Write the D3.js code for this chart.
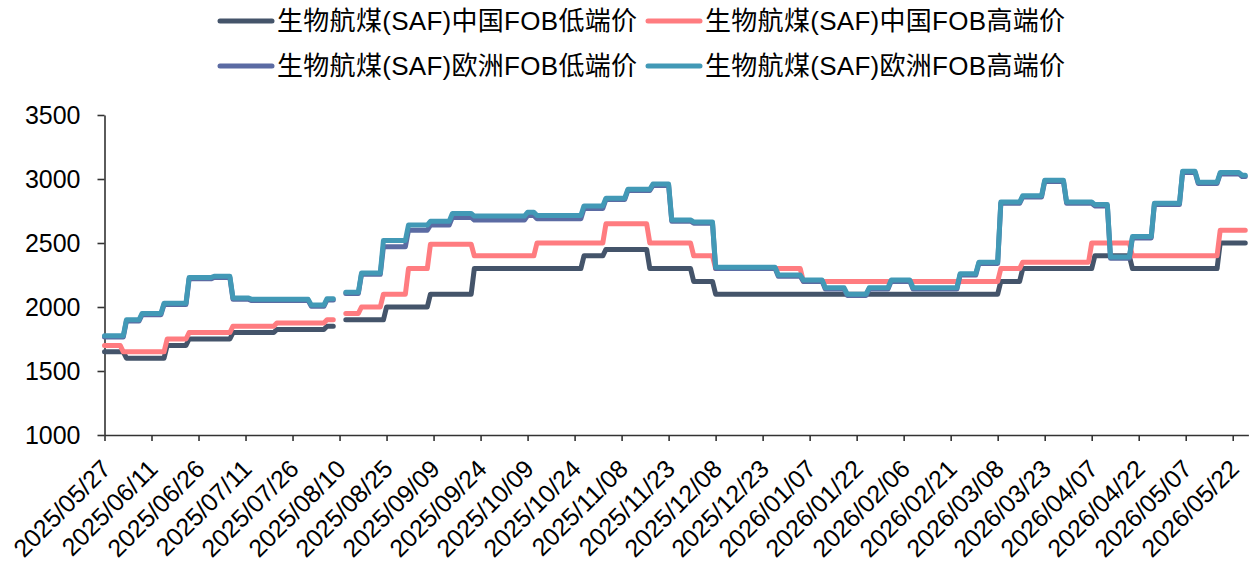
<!DOCTYPE html>
<html><head><meta charset="utf-8">
<script src="https://cdn.jsdelivr.net/npm/d3@7"></script>
<style>
body{margin:0;background:#fff;}
svg{display:block;}
text{font-family:"Liberation Sans",Arial,"Noto Sans CJK SC",sans-serif;fill:#000;}
</style>
</head><body>
<svg id="chart" width="1254" height="565"></svg>
<script>
// ---------- data ----------
const seriesNames = ["生物航煤(SAF)中国FOB低端价","生物航煤(SAF)中国FOB高端价","生物航煤(SAF)欧洲FOB低端价","生物航煤(SAF)欧洲FOB高端价"];
const seriesColors = ["#44546A","#FF7C80","#5B6BA3","#4299B6"];

// change points (step series); null = no data
const cnLowDates = ["2025/05/27","2025/06/03","2025/06/16","2025/06/23","2025/07/07","2025/07/21","2025/08/06","2025/08/08","2025/08/09","2025/08/12","2025/08/25","2025/09/08","2025/09/22","2025/10/27","2025/11/03","2025/11/17","2025/12/01","2025/12/08","2026/03/09","2026/03/16","2026/04/08","2026/04/20","2026/05/18","2026/05/26"];
const cnLowValues = [1650,1600,1700,1750,1800,1825,1850,1850,null,1900,2000,2100,2300,2400,2450,2300,2200,2100,2200,2300,2400,2300,2500,2500];

const cnHighDates = ["2025/05/27","2025/06/02","2025/06/16","2025/06/23","2025/07/07","2025/07/21","2025/08/06","2025/08/08","2025/08/09","2025/08/12","2025/08/17","2025/08/24","2025/09/01","2025/09/08","2025/09/22","2025/10/12","2025/11/03","2025/11/17","2025/12/01","2025/12/08","2026/01/05","2026/03/09","2026/03/16","2026/04/07","2026/04/20","2026/05/18","2026/05/26"];
const cnHighValues = [1700,1650,1750,1800,1850,1875,1900,1900,null,1950,2000,2100,2300,2490,2400,2500,2650,2500,2400,2300,2200,2300,2350,2500,2400,2600,2600];

const euDates = ["2025/05/27","2025/06/03","2025/06/08","2025/06/15","2025/06/23","2025/07/01","2025/07/07","2025/07/13","2025/08/01","2025/08/06","2025/08/08","2025/08/09","2025/08/12","2025/08/17","2025/08/24","2025/09/01","2025/09/08","2025/09/15","2025/09/22","2025/10/09","2025/10/12","2025/10/27","2025/11/03","2025/11/10","2025/11/18","2025/11/24","2025/12/01","2025/12/08","2025/12/28","2026/01/05","2026/01/12","2026/01/19","2026/01/26","2026/02/02","2026/02/09","2026/02/24","2026/03/02","2026/03/09","2026/03/16","2026/03/23","2026/03/30","2026/04/08","2026/04/13","2026/04/20","2026/04/27","2026/05/06","2026/05/11","2026/05/18","2026/05/25","2026/05/26"];
const euLowValues = [1765,1890,1940,2020,2220,2230,2060,2050,2005,2055,2055,null,2105,2255,2470,2600,2640,2700,2680,2715,2690,2770,2840,2910,2950,2670,2655,2300,2240,2200,2140,2090,2140,2200,2140,2250,2340,2810,2860,2980,2810,2790,2380,2540,2800,3050,2965,3040,3020,3020];
const euHighValues = [1775,1900,1950,2030,2230,2240,2070,2060,2015,2065,2065,null,2115,2265,2520,2640,2670,2730,2710,2740,2715,2790,2850,2920,2960,2680,2665,2310,2250,2210,2150,2100,2150,2210,2150,2260,2350,2820,2870,2990,2820,2800,2390,2550,2810,3060,2975,3050,3030,3030];

const yTickValues = [1000,1500,2000,2500,3000,3500];
const xTickLabels = ["2025/05/27","2025/06/11","2025/06/26","2025/07/11","2025/07/26","2025/08/10","2025/08/25","2025/09/09","2025/09/24","2025/10/09","2025/10/24","2025/11/08","2025/11/23","2025/12/08","2025/12/23","2026/01/07","2026/01/22","2026/02/06","2026/02/21","2026/03/08","2026/03/23","2026/04/07","2026/04/22","2026/05/07","2026/05/22"];
const xDomain = ["2025/05/27","2026/05/27"];

// ---------- chart ----------
const parse = d3.timeParse("%Y/%m/%d");
const fmt = d3.timeFormat("%Y/%m/%d");
const svg = d3.select("#chart");

const x = d3.scaleTime().domain(xDomain.map(parse)).range([104.5, 1248.4]);
const y = d3.scaleLinear().domain([1000, 3500]).range([435, 115]);

function buildPoints(dates, values) {
  const pts = [];
  for (let i = 0; i < dates.length; i++) {
    const d = parse(dates[i]);
    const v = values[i];
    if (v != null && i > 0 && values[i-1] != null) {
      const hold = d3.timeDay.offset(d, -1);
      if (hold > parse(dates[i-1])) pts.push({d: hold, v: values[i-1]});
    }
    pts.push({d, v});
  }
  return pts;
}

const series = [
  buildPoints(cnLowDates, cnLowValues),
  buildPoints(cnHighDates, cnHighValues),
  buildPoints(euDates, euLowValues),
  buildPoints(euDates, euHighValues)
];

const line = d3.line()
  .defined(p => p.v != null)
  .x(p => x(p.d))
  .y(p => y(p.v));

// axes
const yAxis = d3.axisLeft(y).tickValues(yTickValues).tickSize(7).tickSizeOuter(0).tickPadding(17).tickFormat(d3.format("d"));
const gy = svg.append("g").attr("transform", "translate(104.5,0)").call(yAxis);
gy.selectAll("text").style("font-size", "25px").attr("fill", "#000");

const xAxis = d3.axisBottom(x).tickValues(xTickLabels.map(parse)).tickSize(6).tickSizeOuter(0).tickFormat(fmt);
const gx = svg.append("g").attr("transform", "translate(0,435)").call(xAxis);
gx.selectAll("text")
  .style("font-size", "25px")
  .attr("fill", "#000")
  .attr("text-anchor", "end")
  .attr("dominant-baseline", "central")
  .attr("dy", null)
  .attr("y", 0)
  .attr("transform", "translate(1,29) rotate(-45)");

[gx, gy].forEach(g => {
  g.selectAll(".domain").attr("stroke", "#333").attr("stroke-width", 1.6);
  g.selectAll(".tick line").attr("stroke", "#333").attr("stroke-width", 1.6);
});

// lines
svg.append("g").selectAll("path").data(series).join("path")
  .attr("d", line)
  .attr("fill", "none")
  .attr("stroke", (d, i) => seriesColors[i])
  .attr("stroke-width", 5)
  .attr("stroke-linecap", "round")
  .attr("stroke-linejoin", "round");

// legend
const legendPos = [[218, 21], [646, 21], [218, 66], [646, 66]];
const lg = svg.append("g").selectAll("g").data(seriesNames).join("g")
  .attr("transform", (d, i) => `translate(${legendPos[i][0]},${legendPos[i][1]})`);
lg.append("line").attr("x1", 2).attr("x2", 54).attr("y1", 0).attr("y2", 0)
  .attr("stroke", (d, i) => seriesColors[i]).attr("stroke-width", 5).attr("stroke-linecap", "round");
lg.append("text").attr("x", 59).attr("y", 0).attr("dominant-baseline", "central")
  .attr("textLength", 360).attr("lengthAdjust", "spacing")
  .style("font-size", "26px").text(d => d);
</script>
</body></html>
